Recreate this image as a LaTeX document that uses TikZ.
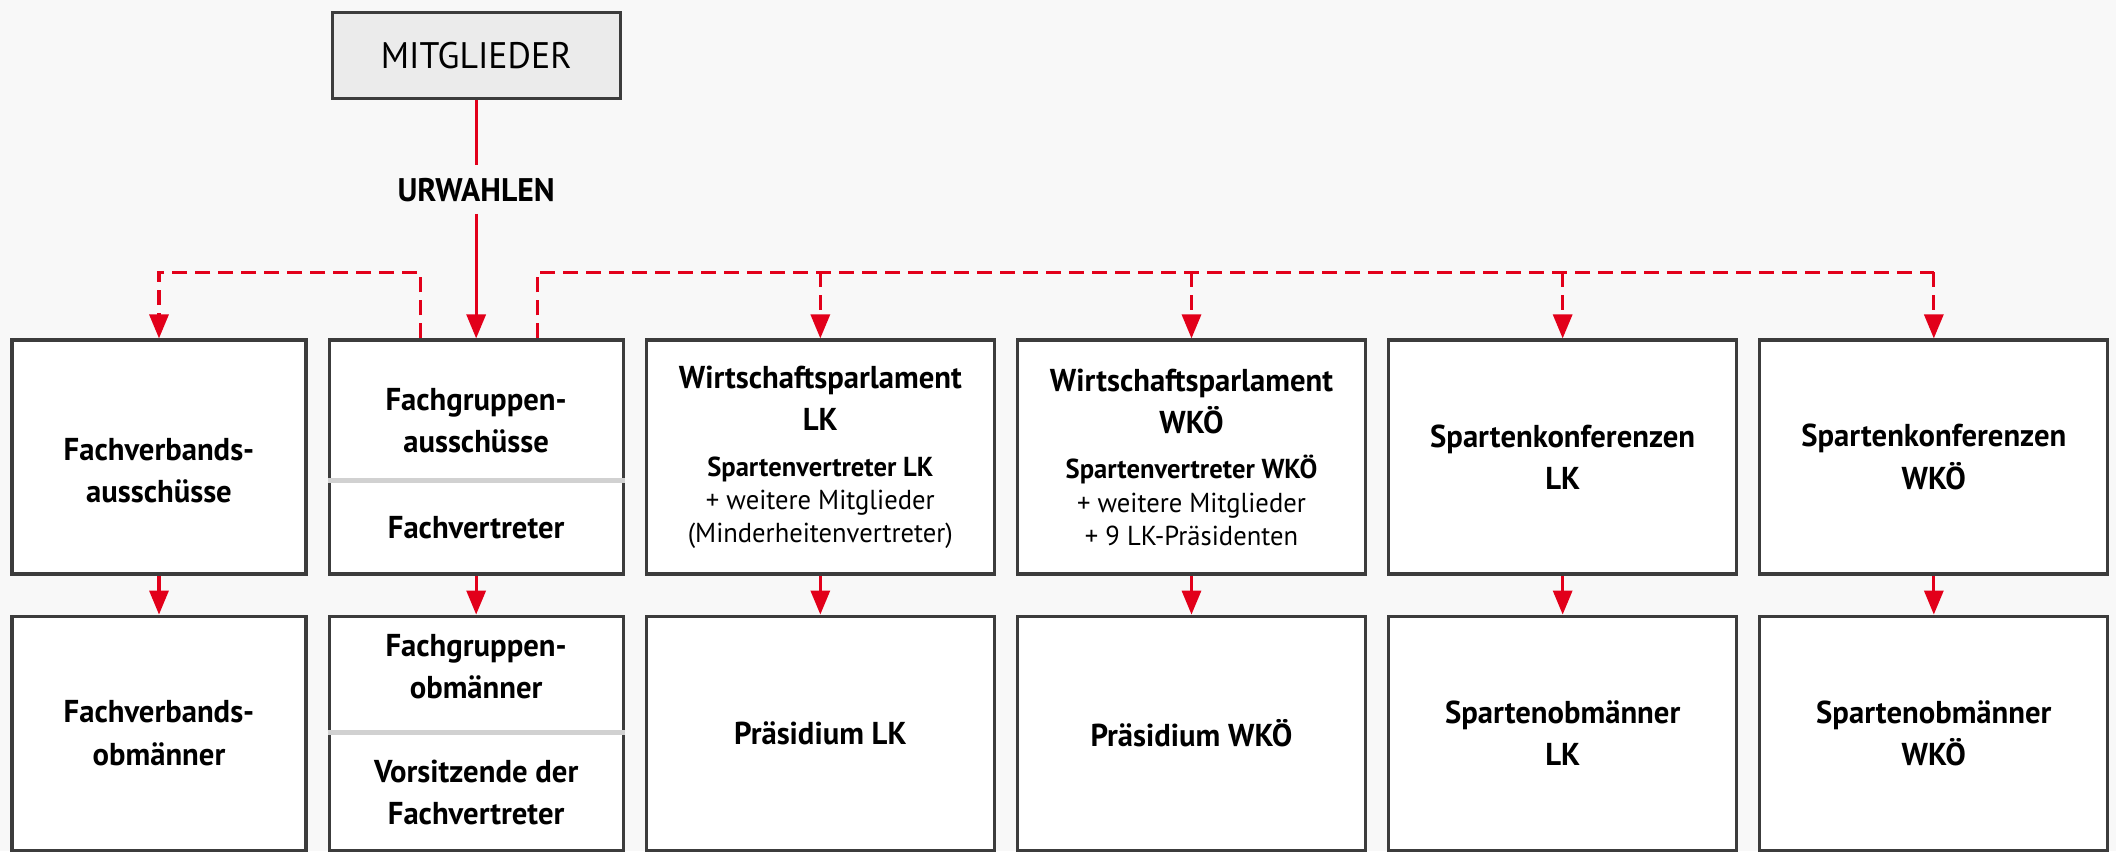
\documentclass[tikz,border=0pt]{standalone}
\usepackage{fontspec}
\setmainfont{PT Sans}[FakeStretch=0.97]
\usepackage{xcolor}
\usepackage{tikz}
\usetikzlibrary{arrows.meta,positioning,calc}
\definecolor{wkred}{HTML}{E2001A}
\definecolor{frame}{HTML}{3C3C3C}
\definecolor{paper}{HTML}{F8F8F8}
\definecolor{headfill}{HTML}{EBEBEB}
\newcommand{\bigtxt}{\fontsize{9}{12}\selectfont\bfseries}
\newcommand{\smalltxt}{\fontsize{7.8}{9.4}\selectfont}
\tikzset{
  >={Triangle[length=2.4mm,width=1.9mm]},
  box/.style={draw=frame, line width=0.9pt, fill=white, minimum width=2.94cm, minimum height=2.34cm, align=center, inner sep=0pt, font=\bigtxt},
  widebox/.style={box, minimum width=3.48cm},
  part/.style={align=center, inner sep=0pt, font=\bigtxt},
  divider/.style={draw=black!18, line width=1.2pt},
  head/.style={draw=frame, line width=0.9pt, fill=headfill, minimum width=2.88cm, minimum height=0.86cm, font=\fontsize{10.5}{12}\selectfont},
  tag/.style={fill=paper, minimum width=2.33cm, minimum height=0.47cm, font=\fontsize{9.3}{11}\selectfont\bfseries},
  link/.style={->, draw=wkred, line width=0.9pt},
  dline/.style={draw=wkred, line width=0.9pt, dash pattern=on 1.5mm off 0.8mm},
  dlink/.style={dline, ->},
}

\begin{document}
\begin{tikzpicture}[node distance=3.9mm and 2mm]
  \path[use as bounding box, fill=paper] (0,0) rectangle (21.16,-8.51);
  \node[box] (fva) at (1.59,-4.57) {\\[2pt]Fachverbands-\\ausschüsse};
  \node[box, right=of fva] (fg) {};
  \node[part] (fga) at ($(fg.north)+(0,-0.82)$) {Fachgruppen-\\ausschüsse};
  \coordinate (fgm) at ($(fg.north)+(0,-1.42)$);
  \node[part] (fvt) at ($(fg.south)!0.5!(fgm)$) {Fachvertreter};
  \draw[divider] (fg.west |- fgm) -- (fg.east |- fgm);
  \node[widebox, right=of fg] (wpl) {Wirtschaftsparlament\\LK\\[1pt]{\smalltxt Spartenvertreter LK}\\[-2.6pt]{\smalltxt\mdseries + weitere Mitglieder}\\[-2.6pt]{\smalltxt\mdseries (Minderheitenvertreter)}};
  \node[widebox, right=of wpl] (wpw) {Wirtschaftsparlament\\WKÖ\\[1pt]{\smalltxt Spartenvertreter WKÖ}\\[-2.6pt]{\smalltxt\mdseries + weitere Mitglieder}\\[-2.6pt]{\smalltxt\mdseries + 9 LK-Präsidenten}};
  \node[widebox, right=of wpw] (skl) {Spartenkonferenzen\\LK};
  \node[widebox, right=of skl] (skw) {Spartenkonferenzen\\WKÖ};

  \node[box, below=of fva] (fvo) {Fachverbands-\\obmänner};
  \node[box, below=of fg] (fgb) {};
  \node[part] (fgo) at ($(fgb.north)+(0,-0.52)$) {Fachgruppen-\\obmänner};
  \coordinate (fgn) at ($(fgb.north)+(0,-1.18)$);
  \node[part] (vfv) at ($(fgb.south)!0.5!(fgn)$) {Vorsitzende der\\Fachvertreter};
  \draw[divider] (fgb.west |- fgn) -- (fgb.east |- fgn);
  \node[widebox, below=of wpl] (pl) {Präsidium LK};
  \node[widebox, below=of wpw] (pw) {Präsidium WKÖ};
  \node[widebox, below=of skl] (sol) {Spartenobmänner\\LK};
  \node[widebox, below=of skw] (sow) {Spartenobmänner\\WKÖ};

  \node[head, above=2.38cm of fg] (mit) {MITGLIEDER};
  \node[tag, below=6.5mm of mit] (urw) {URWAHLEN};
  \draw[wkred, line width=0.9pt] (mit) -- (urw);
  \draw[link] (urw) -- (fg);

  \coordinate (dl) at ($(fg.north)+(-0.56,0)$);
  \coordinate (dr) at ($(fg.north)+(0.61,0)$);
  \draw[dlink] (dl) -- ++(0,0.66) -| (fva);
  \draw[dline] (dr) -- ++(0,0.66) coordinate (dt) -- (dt -| skw);
  \foreach \n in {wpl,wpw,skl,skw}
    \draw[dlink] (dt -| \n) -- (\n);

  \foreach \a/\b in {fva/fvo,fg/fgb,wpl/pl,wpw/pw,skl/sol,skw/sow}
    \draw[link] (\a) -- (\b);
\end{tikzpicture}
\end{document}
